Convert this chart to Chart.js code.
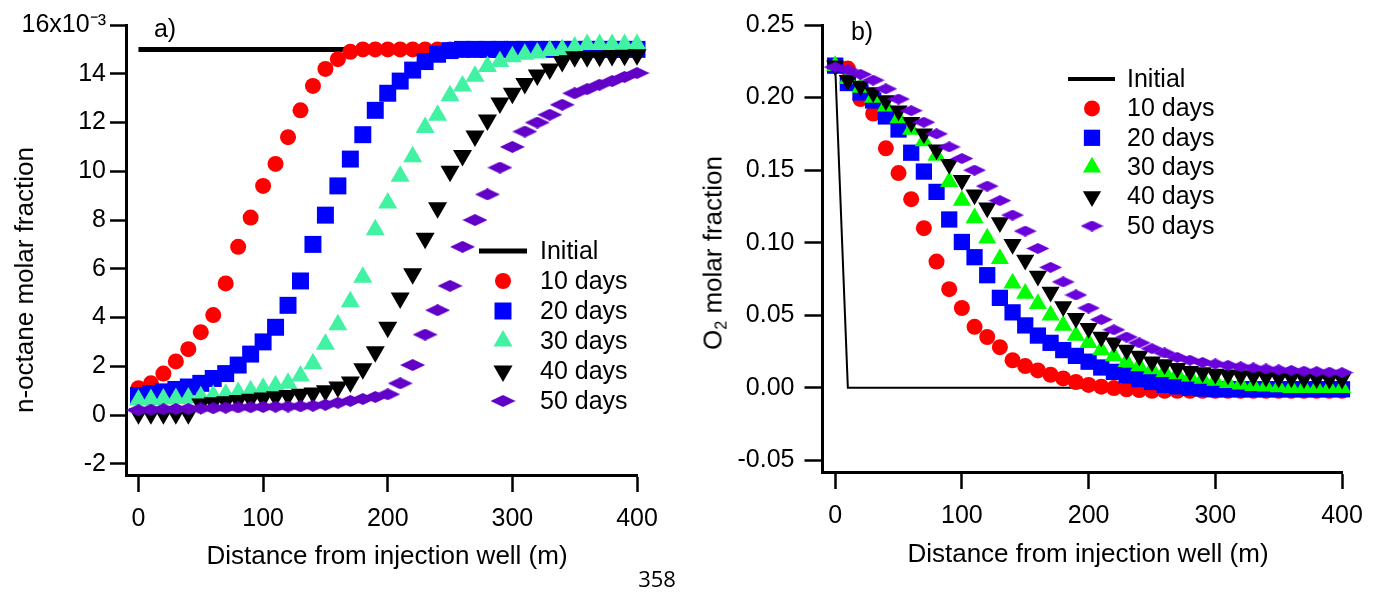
<!DOCTYPE html>
<html>
<head>
<meta charset="utf-8">
<script src="https://cdn.jsdelivr.net/npm/chart.js@4.4.1/dist/chart.umd.min.js"></script>
<style>
  body { margin: 0; background: #fff; width: 1382px; height: 597px; overflow: hidden; position: relative;
         font-family: "Liberation Sans", Arial, sans-serif; color: #000; }
  canvas { position: absolute; top: 0; }
  #chartA { left: 0; }
  #chartB { left: 690px; }
  .lbl { position: absolute; white-space: nowrap; line-height: 1; }
  .ytitle { transform: translate(-50%, -50%) rotate(-90deg); font-size: 26px; }
  .xtitle { transform: translate(-50%, -50%); font-size: 26px; }
  .tag { transform: translate(-50%, -50%); font-size: 25px; }
  .page { transform: translate(-50%, -50%); font-size: 22px; font-family: "Open Sans", sans-serif; }
</style>
</head>
<body>
<canvas id="chartA" width="690" height="597"></canvas>
<canvas id="chartB" width="692" height="597"></canvas>

<div class="lbl ytitle" style="left:24px; top:280px;">n-octane molar fraction</div>
<div class="lbl xtitle" style="left:387px; top:555px;">Distance from injection well (m)</div>
<div class="lbl tag" style="left:165px; top:28px;">a)</div>

<div class="lbl ytitle" style="left:714px; top:253px;">O<sub style="font-size:62%; vertical-align:-0.3em;">2</sub> molar fraction</div>
<div class="lbl xtitle" style="left:1088px; top:553px;">Distance from injection well (m)</div>
<div class="lbl tag" style="left:862px; top:31px;">b)</div>

<div class="lbl page" style="left:657px; top:578px;">358</div>

<script>
// distances (m) shared by both panels
const distance = [0, 10, 20, 30, 40, 50, 60, 70, 80, 90, 100, 110, 120, 130, 140, 150, 160, 170, 180, 190, 200,
                  210, 220, 230, 240, 250, 260, 270, 280, 290, 300, 310, 320, 330, 340, 350, 360, 370, 380, 390, 400];
const distanceTicks = [0, 100, 200, 300, 400];
const seriesNames = ['Initial', '10 days', '20 days', '30 days', '40 days', '50 days'];

// panel a) n-octane molar fraction, x10^-3
const octaneInitX = [0, 400];
const octaneInit = [15, 15];
const octane10 = [1.1, 1.3, 1.7, 2.2, 2.7, 3.4, 4.1, 5.4, 6.9, 8.1, 9.4, 10.3, 11.4, 12.5, 13.5, 14.2, 14.6, 14.9, 15.0, 15.0,
                  15.0, 15.0, 15.0, 15.0, 15.0, 15.0, 15.0, 15.0, 15.0, 15.0, 15.0, 15.0, 15.0, 15.0, 15.0, 15.0, 15.0, 15.0, 15.0, 15.0, 15.0];
const octane20 = [0.8, 0.88, 0.95, 1.05, 1.15, 1.3, 1.5, 1.7, 2.05, 2.5, 3.0, 3.6, 4.5, 5.5, 7.0, 8.2, 9.4, 10.5, 11.5, 12.5,
                  13.2, 13.7, 14.15, 14.5, 14.8, 14.95, 15.0, 15.0, 15.0, 15.0, 15.0, 15.0, 15.0, 15.0, 15.0, 15.0, 15.0, 15.0, 15.0, 15.0, 15.0];
const octane30 = [0.62, 0.64, 0.66, 0.68, 0.7, 0.75, 0.8, 0.85, 0.92, 1.0, 1.1, 1.2, 1.3, 1.6, 2.1, 2.9, 3.7, 4.65, 5.65, 7.6,
                  8.7, 9.8, 10.6, 11.8, 12.3, 13.1, 13.5, 13.9, 14.3, 14.5, 14.7, 14.8, 14.85, 14.95, 15.0, 15.1, 15.2, 15.2, 15.2, 15.2, 15.2];
const octane40 = [0.05, 0.05, 0.05, 0.05, 0.05, 0.45, 0.5, 0.55, 0.6, 0.65, 0.7, 0.75, 0.8, 0.85, 0.9, 1.0, 1.15, 1.35, 1.9, 2.6,
                  3.6, 4.8, 5.8, 7.25, 8.5, 10.0, 10.65, 11.45, 12.1, 12.8, 13.2, 13.6, 13.95, 14.2, 14.5, 14.7, 14.7, 14.72, 14.75, 14.76, 14.78];
const octane50 = [0.2, 0.22, 0.24, 0.25, 0.26, 0.27, 0.28, 0.3, 0.31, 0.32, 0.33, 0.34, 0.35, 0.36, 0.38, 0.42, 0.5, 0.58, 0.66, 0.74,
                  0.85, 1.3, 2.05, 3.3, 4.3, 5.3, 6.9, 8.0, 9.05, 10.15, 11.0, 11.63, 12.0, 12.32, 12.73, 13.2, 13.37, 13.55, 13.7, 13.87, 14.03];
const octaneTicks = [-2, 0, 2, 4, 6, 8, 10, 12, 14, 16];

// panel b) O2 molar fraction
const o2InitX = [0, 10, 400];
const o2Init = [0.222, 0, 0];
const o2_10 = [0.222, 0.22, 0.199, 0.189, 0.165, 0.148, 0.13, 0.11, 0.087, 0.068, 0.055, 0.042, 0.035, 0.028, 0.019, 0.015, 0.012, 0.009, 0.0065, 0.004,
               0.002, 0.0008, -0.0002, -0.001, -0.0015, -0.002, -0.002, -0.002, -0.002, -0.002, -0.002, -0.002, -0.002, -0.002, -0.002, -0.002, -0.002, -0.002, -0.002, -0.002, -0.002];
const o2_20 = [0.222, 0.21, 0.2035, 0.198, 0.187, 0.178, 0.162, 0.149, 0.135, 0.116, 0.1005, 0.09, 0.0776, 0.062, 0.052, 0.043, 0.036, 0.031, 0.026, 0.022,
               0.018, 0.014, 0.011, 0.0085, 0.006, 0.004, 0.002, 0.001, 0.0, -0.0005, -0.001, -0.001, -0.001, -0.001, -0.001, -0.001, -0.001, -0.001, -0.001, -0.001, -0.001];
const o2_30 = [0.222, 0.213, 0.207, 0.2, 0.194, 0.186, 0.178, 0.17, 0.16, 0.142, 0.129, 0.117, 0.103, 0.089, 0.072, 0.065, 0.058, 0.05, 0.043, 0.036,
               0.031, 0.026, 0.022, 0.018, 0.015, 0.013, 0.011, 0.0095, 0.008, 0.0065, 0.005, 0.0035, 0.0025, 0.0015, 0.001, 0.0005, 0.0, 0.0, 0.0, 0.0, 0.0];
const o2_40 = [0.222, 0.212, 0.208, 0.2035, 0.198, 0.191, 0.183, 0.175, 0.164, 0.154, 0.143, 0.133, 0.124, 0.114, 0.099, 0.088, 0.077, 0.066, 0.056, 0.048,
               0.041, 0.035, 0.031, 0.026, 0.022, 0.018, 0.016, 0.0135, 0.0115, 0.0105, 0.0095, 0.009, 0.0085, 0.008, 0.0075, 0.007, 0.007, 0.0065, 0.0065, 0.006, 0.006];
const o2_50 = [0.221, 0.219, 0.216, 0.212, 0.206, 0.199, 0.191, 0.183, 0.175, 0.166, 0.158, 0.15, 0.139, 0.129, 0.119, 0.108, 0.096, 0.083, 0.073, 0.064,
               0.055, 0.047, 0.04, 0.035, 0.031, 0.027, 0.024, 0.021, 0.019, 0.0175, 0.0165, 0.0155, 0.0145, 0.0137, 0.013, 0.0124, 0.012, 0.0115, 0.0112, 0.0108, 0.0105];
const o2Ticks = [-0.05, 0, 0.05, 0.10, 0.15, 0.20, 0.25];

Chart.defaults.font.family = '"Liberation Sans", Arial, sans-serif';
Chart.defaults.font.size = 25;
Chart.defaults.color = '#000';

function pts(xs, ys) {
    return ys.map((y, i) => ({ x: xs[i], y: y }));
}

// flat diamond marker like the Igor one
function diamond(w, h, color) {
    const c = document.createElement('canvas');
    c.width = w;
    c.height = h;
    const g = c.getContext('2d');
    g.fillStyle = color;
    g.beginPath();
    g.moveTo(w / 2, 0);
    g.lineTo(w, h / 2);
    g.lineTo(w / 2, h);
    g.lineTo(0, h / 2);
    g.closePath();
    g.fill();
    return c;
}

function markers(data, style, radius, color, rotation, order) {
    return {
        data: data,
        showLine: false,
        pointStyle: style,
        pointRadius: radius,
        pointRotation: rotation,
        pointBackgroundColor: color,
        pointBorderWidth: 0,
        borderWidth: 0,
        clip: false,
        order: order
    };
}

// legend drawn inside the plot, like the original
const insideLegend = {
    id: 'insideLegend',
    afterDatasetsDraw(chart, args, o) {
        const ctx = chart.ctx;
        ctx.save();
        ctx.font = '25px "Liberation Sans", Arial, sans-serif';
        ctx.textBaseline = 'middle';
        seriesNames.forEach((name, i) => {
            const y = o.y + i * o.dy;
            const ds = chart.data.datasets[i];
            if (i === 0) {
                ctx.strokeStyle = '#000';
                ctx.lineWidth = o.lineWidth;
                ctx.beginPath();
                ctx.moveTo(o.lineX0, y);
                ctx.lineTo(o.lineX1, y);
                ctx.stroke();
            } else {
                ctx.fillStyle = ds.pointBackgroundColor;
                Chart.helpers.drawPoint(ctx, {
                    pointStyle: ds.pointStyle,
                    rotation: ds.pointRotation || 0,
                    radius: ds.pointRadius,
                    borderWidth: 0
                }, o.markX, y);
            }
            ctx.fillStyle = '#000';
            ctx.fillText(name, o.textX, y + 1);
        });
        ctx.restore();
    }
};

function axes(o) {
    return {
        x: {
            type: 'linear',
            min: -10,
            max: 400,
            afterBuildTicks: s => { s.ticks = distanceTicks.map(v => ({ value: v })); },
            afterFit: s => { s.height = o.xHeight; },
            grid: { drawOnChartArea: false, drawTicks: true, tickLength: 17, tickWidth: 2.5, color: '#000' },
            border: { display: true, color: '#000', width: 3 },
            ticks: { padding: 12, maxRotation: 0, autoSkip: false, callback: v => String(v) }
        },
        y: {
            type: 'linear',
            min: o.yMin,
            max: o.yMax,
            afterBuildTicks: s => { s.ticks = o.yTicks.map(v => ({ value: v })); },
            afterFit: s => { s.width = o.yWidth; },
            grid: { drawOnChartArea: false, drawTicks: true, tickLength: o.yTickLen, tickWidth: 2.5, color: '#000' },
            border: { display: true, color: '#000', width: 3 },
            ticks: { padding: o.yPad, autoSkip: false, callback: o.yLabel }
        }
    };
}

const common = {
    responsive: false,
    animation: false,
    events: [],
    plugins: { legend: { display: false }, tooltip: { enabled: false } }
};

// panel a)
new Chart(document.getElementById('chartA'), {
    type: 'scatter',
    data: {
        datasets: [
            { data: pts(octaneInitX, octaneInit), showLine: true, borderColor: '#000', borderWidth: 5,
              pointRadius: 0, clip: false, order: 6 },
            markers(pts(distance, octane10), 'circle', 8, '#FF0000', 0, 5),
            markers(pts(distance, octane20), 'rect', 12, '#0000FF', 0, 4),
            markers(pts(distance, octane30), 'triangle', 11, '#40F2A2', 0, 3),
            markers(pts(distance, octane40), 'triangle', 11, '#000000', 180, 2),
            markers(pts(distance, octane50), diamond(25, 12, '#6200C8'), 8, '#6200C8', 0, 1)
        ]
    },
    options: Object.assign({}, common, {
        layout: { padding: { left: 0, right: 53, top: 25, bottom: 0 } },
        scales: axes({
            xHeight: 122, yMin: -2.46, yMax: 16, yTicks: octaneTicks, yWidth: 126, yTickLen: 16, yPad: 4,
            yLabel: v => (v === 16 ? '16x10\u207B\u00B3' : String(v))
        }),
        plugins: Object.assign({}, common.plugins, {
            insideLegend: { y: 251, dy: 30, lineX0: 479, lineX1: 527, lineWidth: 5, markX: 503, textX: 540 }
        })
    }),
    plugins: [insideLegend]
});

// panel b)
new Chart(document.getElementById('chartB'), {
    type: 'scatter',
    data: {
        datasets: [
            { data: pts(o2InitX, o2Init), showLine: true, borderColor: '#000', borderWidth: 2,
              pointRadius: 0, clip: false, order: 6 },
            markers(pts(distance, o2_10), 'circle', 8, '#FF0000', 0, 5),
            markers(pts(distance, o2_20), 'rect', 11.5, '#0000FF', 0, 4),
            markers(pts(distance, o2_30), 'triangle', 10.5, '#00FF00', 0, 3),
            markers(pts(distance, o2_40), 'triangle', 10.5, '#000000', 180, 2),
            markers(pts(distance, o2_50), diamond(23, 11, '#6A00DA'), 8, '#6A00DA', 0, 1)
        ]
    },
    options: Object.assign({}, common, {
        layout: { padding: { left: 0, right: 40, top: 24, bottom: 0 } },
        scales: axes({
            xHeight: 125, yMin: -0.058, yMax: 0.25, yTicks: o2Ticks, yWidth: 132.5, yTickLen: 18, yPad: 10,
            yLabel: v => v.toFixed(2)
        }),
        plugins: Object.assign({}, common.plugins, {
            insideLegend: { y: 79, dy: 29.4, lineX0: 378, lineX1: 425, lineWidth: 4, markX: 402, textX: 437 }
        })
    }),
    plugins: [insideLegend]
});
</script>
</body>
</html>
